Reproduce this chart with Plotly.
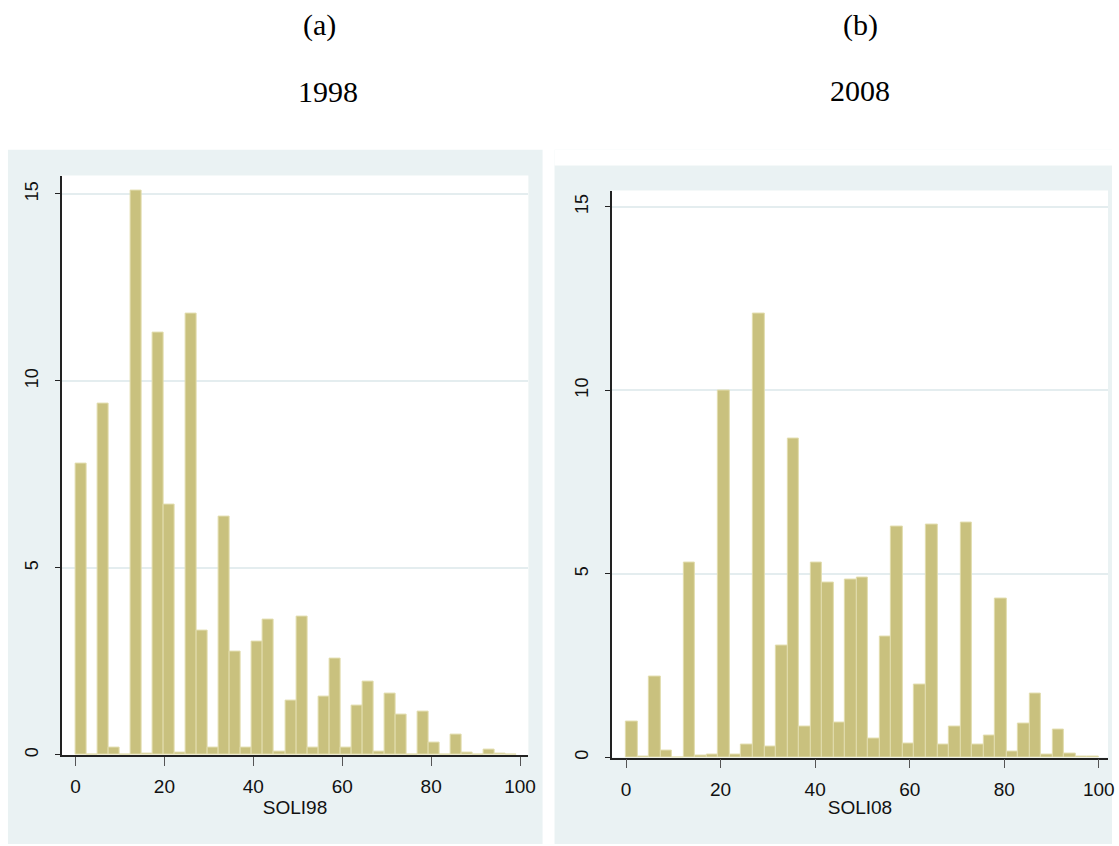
import plotly.graph_objects as go

# ---- data (percent of observations per bin) ----
bin_start_98 = 0.0
bin_width_98 = 2.482
soli98_pct = [7.8, 0, 9.4, 0.2, 0, 15.1, 0.04, 11.3, 6.7, 0.05,
              11.8, 3.32, 0.2, 6.36, 2.75, 0.2, 3.03, 3.62, 0.1, 1.44,
              3.7, 0.2, 1.55, 2.58, 0.2, 1.33, 1.97, 0.09, 1.64, 1.09,
              0, 1.16, 0.33, 0, 0.54, 0.06, 0, 0.13, 0.04, 0]

bin_start_08 = 0.0
bin_width_08 = 100 / 41
soli08_pct = [0.97, 0.03, 2.2, 0.18, 0, 5.3, 0.05, 0.08, 10.0, 0.08,
              0.34, 12.09, 0.29, 3.04, 8.69, 0.83, 5.3, 4.76, 0.96, 4.84,
              4.89, 0.52, 3.3, 6.29, 0.38, 1.98, 6.35, 0.35, 0.83, 6.39,
              0.36, 0.59, 4.32, 0.17, 0.92, 1.74, 0.09, 0.75, 0.11, 0.02,
              0.02]

x_ticks = [0, 20, 40, 60, 80, 100]
y_ticks = [0, 5, 10, 15]
panel_letters = ["(a)", "(b)"]
panel_years = ["1998", "2008"]
x_titles = ["SOLI98", "SOLI08"]

W, H = 1119, 846
BAR = "#C9C17E"
BAR_EDGE = "#E2DDAE"
GREY = "#EAF2F3"
GRID = "#E4EDEF"


def px(x):
    return x / W


def py(y):
    return 1 - y / H


def centers(start, width, n):
    return [start + width * (i + 0.5) for i in range(n)]


fig = go.Figure()
fig.add_trace(go.Bar(
    x=centers(bin_start_98, bin_width_98, len(soli98_pct)), y=soli98_pct,
    width=bin_width_98, marker=dict(color=BAR, line=dict(color=BAR_EDGE, width=1)),
    xaxis="x", yaxis="y", showlegend=False))
fig.add_trace(go.Bar(
    x=centers(bin_start_08, bin_width_08, len(soli08_pct)), y=soli08_pct,
    width=bin_width_08, marker=dict(color=BAR, line=dict(color=BAR_EDGE, width=1)),
    xaxis="x2", yaxis="y2", showlegend=False))

xfont = dict(family="Liberation Sans Narrow, Arial Narrow, Liberation Sans", size=19, color="#111")
yfont = dict(family="Liberation Sans, Arial", size=18, color="#111")

common_x = dict(tickvals=x_ticks, ticks="outside", ticklen=9, tickcolor="#555", tickwidth=1,
                showline=True, linecolor="#222", linewidth=1.5, showgrid=False, zeroline=False,
                tickfont=xfont, ticklabelstandoff=5, title_font=xfont)
common_y = dict(tickvals=y_ticks, ticks="outside", ticklen=5, tickcolor="#222", tickwidth=1,
                showline=True, linecolor="#222", linewidth=1.5, showgrid=True, gridcolor=GRID,
                gridwidth=2, zeroline=False, tickangle=-90, tickfont=yfont, ticklabelstandoff=10)

fig.update_layout(
    width=W, height=H, margin=dict(l=0, r=0, t=0, b=0),
    paper_bgcolor="white", plot_bgcolor="rgba(0,0,0,0)", bargap=0,
    xaxis=dict(domain=[px(62), px(531.7)], range=[-3.13, 101.88], anchor="y",
               title=dict(text=x_titles[0], standoff=2), **common_x),
    yaxis=dict(domain=[py(756.7), py(176)], range=[0, 15.49], anchor="x", **common_y),
    xaxis2=dict(domain=[px(615.7), px(1115)], range=[-3.0, 101.95], anchor="y2",
                title=dict(text=x_titles[1], standoff=2), **common_x),
    yaxis2=dict(domain=[py(759.3), py(191)], range=[0, 15.44], anchor="x2", **common_y),
    shapes=[
        dict(type="rect", xref="paper", yref="paper", x0=px(8), x1=1, y0=0, y1=py(150),
             fillcolor=GREY, line=dict(width=0), layer="below"),
        dict(type="rect", xref="paper", yref="paper", x0=px(546), x1=px(558), y0=0, y1=1,
             fillcolor="white", line=dict(width=0), layer="below"),
        dict(type="rect", xref="paper", yref="paper", x0=px(558), x1=1, y0=py(166), y1=py(150),
             fillcolor="white", line=dict(width=0), layer="below"),
        dict(type="rect", xref="paper", yref="paper", x0=px(62), x1=px(531.7), y0=py(756.7), y1=py(176),
             fillcolor="white", line=dict(width=0), layer="below"),
        dict(type="rect", xref="paper", yref="paper", x0=px(615.7), x1=px(1115), y0=py(759.3), y1=py(191),
             fillcolor="white", line=dict(width=0), layer="below"),
    ],
    annotations=[
        dict(text=panel_letters[0], x=px(321.7), y=py(25), xref="paper", yref="paper",
             showarrow=False, xanchor="center", yanchor="middle",
             font=dict(family="Liberation Serif, Times New Roman", size=30, color="#000")),
        dict(text=panel_years[0], x=px(330), y=py(91.7), xref="paper", yref="paper",
             showarrow=False, xanchor="center", yanchor="middle",
             font=dict(family="Liberation Serif, Times New Roman", size=30, color="#000")),
        dict(text=panel_letters[1], x=px(866.2), y=py(24.7), xref="paper", yref="paper",
             showarrow=False, xanchor="center", yanchor="middle",
             font=dict(family="Liberation Serif, Times New Roman", size=30, color="#000")),
        dict(text=panel_years[1], x=px(865.5), y=py(90.8), xref="paper", yref="paper",
             showarrow=False, xanchor="center", yanchor="middle",
             font=dict(family="Liberation Serif, Times New Roman", size=30, color="#000")),
    ],
)

# remove the default 8px page margin so the 1119x846 figure fills the window
fig.write_html("out.html", config={"displayModeBar": False},
               post_script="document.body.style.margin='0';")
